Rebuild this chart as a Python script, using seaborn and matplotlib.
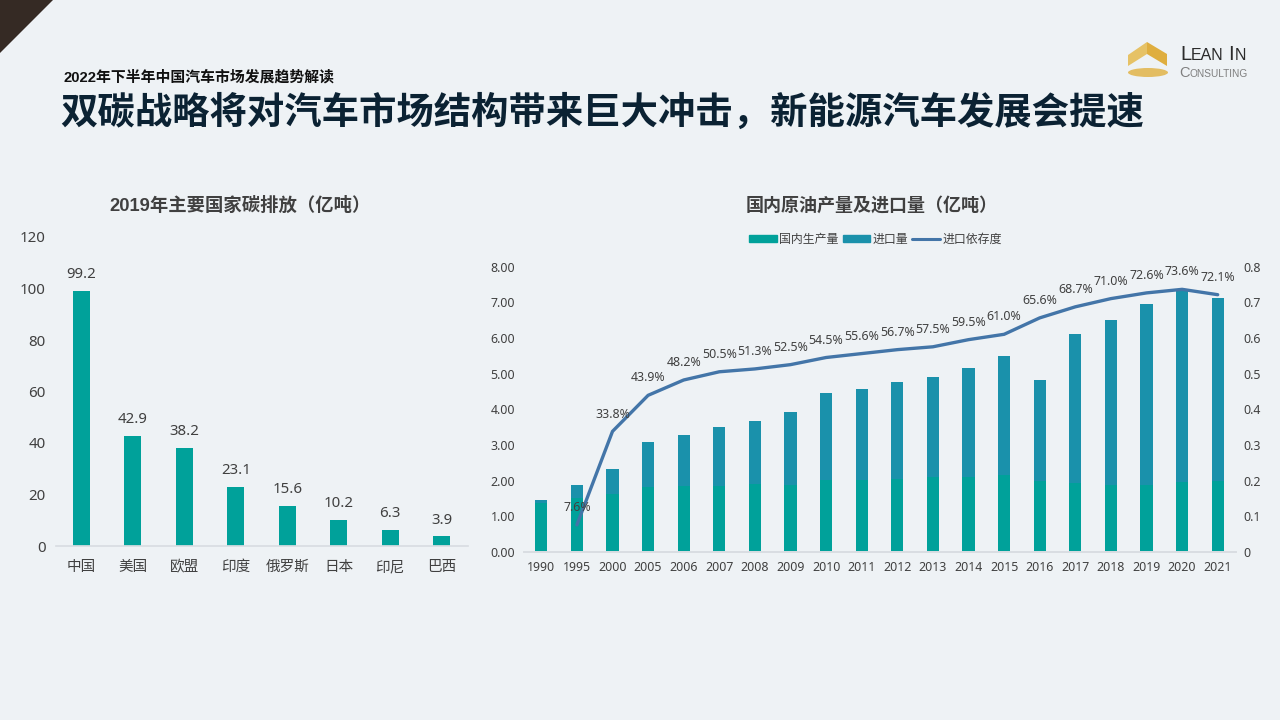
import numpy as np
import pandas as pd
import matplotlib
matplotlib.use('Agg')
import matplotlib.pyplot as plt
from matplotlib.lines import Line2D
from matplotlib.patches import Patch, Polygon, Ellipse
import seaborn as sns

# Data
countries = ['中国', '美国', '欧盟', '印度', '俄罗斯', '日本', '印尼', '巴西']
emissions = [99.2, 42.9, 38.2, 23.1, 15.6, 10.2, 6.3, 3.9]

years = ['1990', '1995', '2000', '2005', '2006', '2007', '2008', '2009', '2010', '2011',
         '2012', '2013', '2014', '2015', '2016', '2017', '2018', '2019', '2020', '2021']
domestic = [1.38, 1.50, 1.63, 1.81, 1.84, 1.86, 1.90, 1.89, 2.03, 2.03,
            2.05, 2.09, 2.11, 2.15, 2.00, 1.92, 1.89, 1.89, 1.95, 1.99]
imports = [0.09, 0.39, 0.70, 1.28, 1.45, 1.65, 1.78, 2.04, 2.42, 2.55,
           2.71, 2.81, 3.04, 3.35, 2.82, 4.20, 4.62, 5.06, 5.41, 5.14]
dependence = [np.nan, 7.6, 33.8, 43.9, 48.2, 50.5, 51.3, 52.5, 54.5, 55.6,
              56.7, 57.5, 59.5, 61.0, 65.6, 68.7, 71.0, 72.6, 73.6, 72.1]

BG = '#eef2f5'
TEAL = '#00a19a'
BLUE = '#1a91ab'
LINE = '#4375a8'
TEXT = '#404040'
W, H = 1280, 720
BOLD_FONT = ['Liberation Sans', 'Noto Sans CJK SC']

sns.set_theme(style='white', rc={'figure.facecolor': BG, 'axes.facecolor': 'none',
                                 'axes.edgecolor': '#d9dde2', 'text.color': TEXT,
                                 'xtick.color': TEXT, 'ytick.color': TEXT})
plt.rcParams['font.family'] = ['Noto Sans', 'Noto Sans CJK SC', 'DejaVu Sans']

fig = plt.figure(figsize=(12.8, 7.2), dpi=100)


def make_axes(left, right, top, bottom):
    return fig.add_axes([left / W, 1 - bottom / H, (right - left) / W, (bottom - top) / H])


# Left chart
ax1 = make_axes(55.5, 467.5, 237, 546)
sns.barplot(x=countries, y=emissions, color=TEAL, width=0.33, saturation=1, linewidth=0, ax=ax1)
ax1.set_ylim(0, 120)
ax1.set_yticks(range(0, 121, 20))
ax1.tick_params(axis='y', length=0, pad=7, labelsize=10.8)
ax1.tick_params(axis='x', length=0, pad=10, labelsize=10.5)
sns.despine(ax=ax1, left=True)
for c in ax1.containers:
    ax1.bar_label(c, fmt='%.1f', padding=6, fontsize=10.8, color=TEXT)

# Right chart
ax2 = make_axes(523.5, 1235.5, 266.5, 552)
sns.barplot(x=years, y=domestic, color=TEAL, width=0.34, saturation=1, linewidth=0, ax=ax2)
sns.barplot(x=years, y=imports, bottom=domestic, color=BLUE, width=0.34, saturation=1, linewidth=0, ax=ax2)
ax2.set_ylim(0, 8)
ax2.set_yticks(range(0, 9))
ax2.set_yticklabels([f'{v:.2f}' for v in range(0, 9)])
ax2.tick_params(axis='y', length=0, pad=6, labelsize=8.9)
ax2.tick_params(axis='x', length=0, pad=6.5, labelsize=8.9)
sns.despine(ax=ax2, left=True)

ax3 = ax2.twinx()
dep_ratio = pd.Series(dependence) / 100
sns.lineplot(x=years, y=dep_ratio.values, color=LINE, linewidth=2.4, errorbar=None, ax=ax3)
ax3.set_xlim(-0.5, len(years) - 0.5)
ax3.set_ylim(0, 0.8)
ax3.set_yticks(np.arange(0, 0.81, 0.1))
ax3.set_yticklabels(['0'] + [f'{v / 10:.1f}' for v in range(1, 9)])
ax3.tick_params(axis='y', length=0, pad=6, labelsize=8.9)
sns.despine(ax=ax3, left=True, right=True)
for i, v in enumerate(dependence):
    if not np.isnan(v):
        ax3.annotate(f'{v:.1f}%', (i, v / 100), xytext=(0, 12.5), textcoords='offset points',
                     ha='center', va='center', fontsize=8.9, color=TEXT, clip_on=False)

# Titles
fig.text(240.5 / W, 1 - 205.5 / H, '2019年主要国家碳排放（亿吨）', ha='center', va='center',
         fontsize=13.2, fontweight='bold', color=TEXT, family=BOLD_FONT)
fig.text(872 / W, 1 - 205.5 / H, '国内原油产量及进口量（亿吨）', ha='center', va='center',
         fontsize=13, fontweight='bold', color=TEXT, family=BOLD_FONT)
fig.text(63 / W, 1 - 77 / H, '2022年下半年中国汽车市场发展趋势解读', ha='left', va='center',
         fontsize=10.7, fontweight='bold', color='#111111', family=BOLD_FONT)
fig.text(60 / W, 1 - 113 / H, '双碳战略将对汽车市场结构带来巨大冲击，新能源汽车发展会提速', ha='left', va='center',
         fontsize=26.9, fontweight='bold', color='#0b2233', family=BOLD_FONT)

# Legend
handles = [Patch(color=TEAL, label='国内生产量'), Patch(color=BLUE, label='进口量'),
           Line2D([0], [0], color=LINE, linewidth=2.2, label='进口依存度')]
fig.legend(handles=handles, loc='center', bbox_to_anchor=(875.5 / W, 1 - 239.5 / H), ncol=3, frameon=False,
           fontsize=8.6, handlelength=2.3, handleheight=0.5, handletextpad=0.2, columnspacing=0.35,
           labelcolor=TEXT)

# Corner triangle and logo, drawn in pixel coordinates on an overlay
deco = fig.add_axes([0, 0, 1, 1], zorder=5)
deco.set_xlim(0, W)
deco.set_ylim(H, 0)
deco.axis('off')
deco.add_patch(Polygon([(0, 0), (53, 0), (0, 53)], color='#352a24', lw=0))
deco.add_patch(Polygon([(1128, 55), (1147, 42), (1147, 54), (1128, 66)], color='#e6c266', lw=0))
deco.add_patch(Polygon([(1147, 42), (1167, 54), (1167, 66), (1147, 54)], color='#dfae3f', lw=0))
deco.add_patch(Ellipse((1148, 72.5), 40, 9, color='#e3bd62', lw=0))
logo_font = 'Liberation Sans'
deco.text(1180, 59.5, 'L', fontsize=14.5, color='#2b2b2b', family=logo_font, va='baseline')
deco.text(1191, 59.5, 'EAN', fontsize=11.5, color='#2b2b2b', family=logo_font, va='baseline')
deco.text(1228, 59.5, 'I', fontsize=14.5, color='#2b2b2b', family=logo_font, va='baseline')
deco.text(1235, 59.5, 'N', fontsize=11.5, color='#2b2b2b', family=logo_font, va='baseline')
deco.text(1179, 77, 'C', fontsize=10.5, color='#7f7f7f', family=logo_font, va='baseline')
deco.text(1189, 77, 'ONSULTING', fontsize=7.3, color='#7f7f7f', family=logo_font, va='baseline')

fig.savefig('out.png', dpi=100, facecolor=BG)
